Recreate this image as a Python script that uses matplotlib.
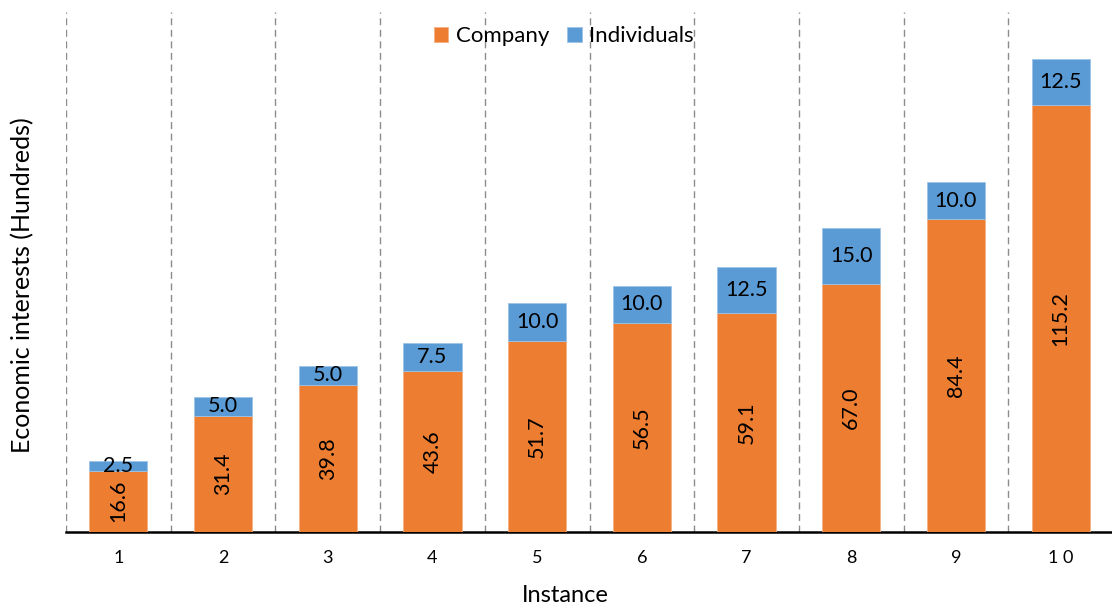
import matplotlib
matplotlib.use("Agg")
import matplotlib.pyplot as plt
import numpy as np

instances = ["1", "2", "3", "4", "5", "6", "7", "8", "9", "1 0"]
company = [16.6, 31.4, 39.8, 43.6, 51.7, 56.5, 59.1, 67.0, 84.4, 115.2]
individuals = [2.5, 5.0, 5.0, 7.5, 10.0, 10.0, 12.5, 15.0, 10.0, 12.5]

orange = "#ED7D31"
blue = "#5B9BD5"

plt.rcParams["font.family"] = ["Lato", "DejaVu Sans"]

W, H = 1112, 608
fig = plt.figure(figsize=(W / 100, H / 100), dpi=100)
ax = fig.add_axes([66 / W, 1 - 532 / H, (1113 - 66) / W, (532 - 12) / H])

x = np.arange(1, len(instances) + 1)
w = 0.555
ax.bar(x, company, w, color=orange, edgecolor="#F4B183", linewidth=0.6, label="Company", zorder=3)
ax.bar(x, individuals, w, bottom=company, color=blue, edgecolor="#9DC3E6", linewidth=0.6,
       label="Individuals", zorder=3)

for xi, c, ind in zip(x, company, individuals):
    ax.text(xi, c / 2, f"{c:.1f}", rotation=90, ha="center", va="center", fontsize=15.5, color="black", zorder=4)
    ax.text(xi, c + ind / 2, f"{ind:.1f}", ha="center", va="center", fontsize=15.5, color="black", zorder=4)

ax.set_xlim(0.5, len(instances) + 0.5)
ax.set_ylim(0, 140.4)

for b in np.arange(0.5, len(instances) + 1, 1.0):
    ax.axvline(b, color="#8C8C8C", linestyle=(0, (5, 3.3)), linewidth=1.0, zorder=1)

for s in ["top", "right", "left"]:
    ax.spines[s].set_visible(False)
ax.spines["bottom"].set_linewidth(1.8)
ax.spines["bottom"].set_color("black")

ax.set_yticks([])
ax.set_xticks(x)
ax.set_xticklabels(instances, fontsize=13)
ax.tick_params(axis="x", length=0, pad=13)

# axis titles, placed in figure pixels
fig.text(565 / W, 1 - 596 / H, "Instance", ha="center", va="center", fontsize=17)
fig.text(23 / W, 1 - 285 / H, "Economic interests (Hundreds)", ha="center", va="center",
         rotation=90, fontsize=18)

ax.legend(loc="center", bbox_to_anchor=(564 / W, 1 - 36 / H), bbox_transform=fig.transFigure,
          ncol=2, frameon=False, fontsize=16,
          handlelength=0.65, handleheight=0.65, handletextpad=0.35, columnspacing=0.8,
          borderaxespad=0.0)

fig.savefig("out.png", dpi=100)
